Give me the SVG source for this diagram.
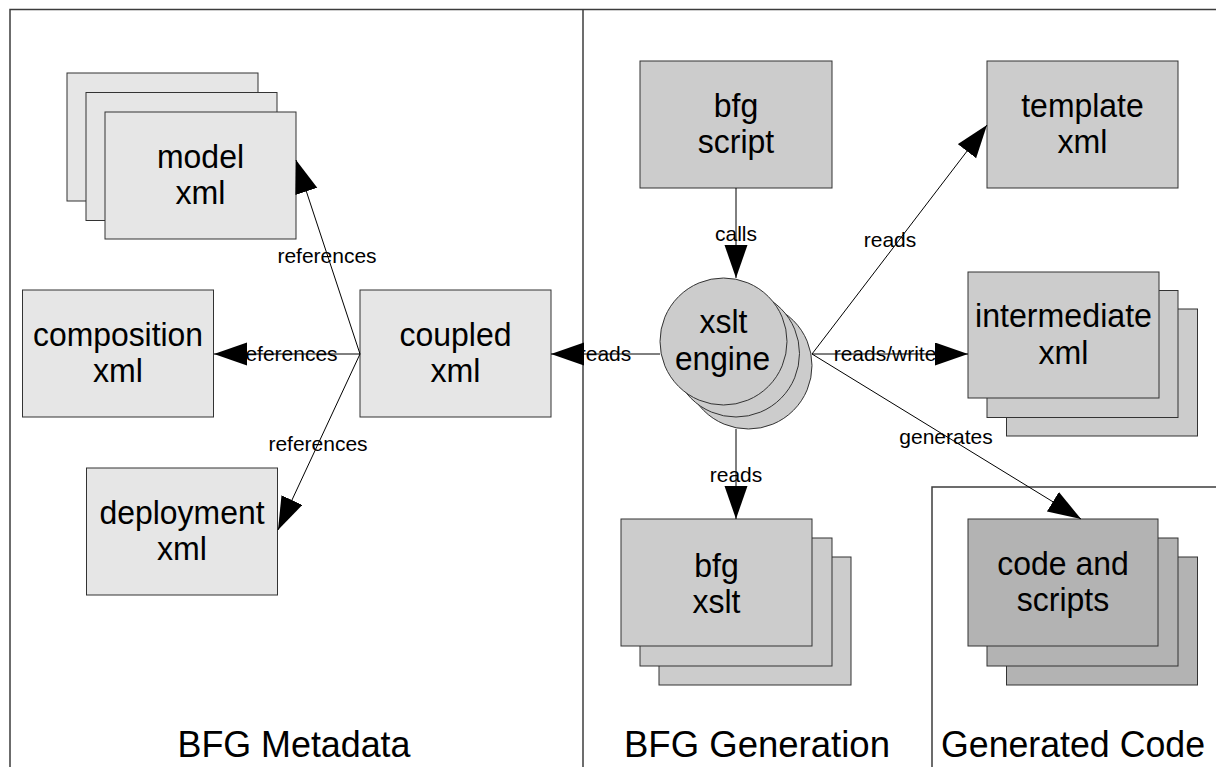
<svg xmlns="http://www.w3.org/2000/svg" width="1216" height="767" viewBox="0 0 1216 767">
<style>
  .frame { fill: none; stroke: #3c3c3c; stroke-width: 1.5; }
  .box { stroke: #333333; stroke-width: 1; }
  .light { fill: #e6e6e6; }
  .mid { fill: #cccccc; }
  .dark { fill: #b3b3b3; }
  .t { font-family: "Liberation Sans", Arial, sans-serif; font-size: 34px; fill: #000; text-anchor: middle; }
  .lbl { font-family: "Liberation Sans", Arial, sans-serif; font-size: 21px; fill: #000; text-anchor: middle; }
  .title { font-family: "Liberation Sans", Arial, sans-serif; font-size: 37px; fill: #000; text-anchor: middle; }
  .conn { fill: none; stroke: #000; stroke-width: 1; marker-end: url(#arrow); }
</style>
<defs>
  <marker id="arrow" markerUnits="userSpaceOnUse" markerWidth="34" markerHeight="24" refX="33" refY="11.5" orient="auto">
    <path d="M0,0 L33,11.5 L0,23 z" fill="#000"/>
  </marker>
</defs>
<rect x="0" y="0" width="1216" height="767" fill="#ffffff"/>

<g id="frames">
  <path class="frame" d="M10,767 V9.5 H1216"/>
  <path class="frame" d="M583,9.5 V767"/>
  <path class="frame" d="M932,767 V487 H1216"/>
</g>

<g id="model">
  <rect class="box light" x="67" y="73" width="191" height="128"/>
  <rect class="box light" x="86" y="92.5" width="191" height="128"/>
  <rect class="box light" x="105" y="112" width="191" height="127"/>
  <text class="t" x="200.5" y="168" textLength="87" lengthAdjust="spacingAndGlyphs">model</text>
  <text class="t" x="200.5" y="204" textLength="50" lengthAdjust="spacingAndGlyphs">xml</text>
</g>

<g id="composition">
  <rect class="box light" x="22.5" y="290" width="191" height="127"/>
  <text class="t" x="118" y="346" textLength="170" lengthAdjust="spacingAndGlyphs">composition</text>
  <text class="t" x="118" y="382" textLength="50" lengthAdjust="spacingAndGlyphs">xml</text>
</g>

<g id="coupled">
  <rect class="box light" x="360" y="290" width="191" height="127"/>
  <text class="t" x="455.5" y="346" textLength="112" lengthAdjust="spacingAndGlyphs">coupled</text>
  <text class="t" x="455.5" y="382" textLength="50" lengthAdjust="spacingAndGlyphs">xml</text>
</g>

<g id="deployment">
  <rect class="box light" x="86.5" y="468" width="191" height="127"/>
  <text class="t" x="182" y="524" textLength="165" lengthAdjust="spacingAndGlyphs">deployment</text>
  <text class="t" x="182" y="560" textLength="50" lengthAdjust="spacingAndGlyphs">xml</text>
</g>

<g id="bfg-script">
  <rect class="box mid" x="640" y="61" width="192" height="127"/>
  <text class="t" x="736" y="117" textLength="44.5" lengthAdjust="spacingAndGlyphs">bfg</text>
  <text class="t" x="736" y="153" textLength="76.5" lengthAdjust="spacingAndGlyphs">script</text>
</g>

<g id="template">
  <rect class="box mid" x="987" y="61" width="191" height="127"/>
  <text class="t" x="1082.5" y="117" textLength="122.5" lengthAdjust="spacingAndGlyphs">template</text>
  <text class="t" x="1082.5" y="153" textLength="50" lengthAdjust="spacingAndGlyphs">xml</text>
</g>

<g id="xslt-engine">
  <circle class="box mid" cx="748.5" cy="365.5" r="63.5"/>
  <circle class="box mid" cx="736" cy="353.5" r="63.5"/>
  <circle class="box mid" cx="723.5" cy="341.5" r="63.5"/>
  <text class="t" x="723.5" y="333" textLength="48" lengthAdjust="spacingAndGlyphs">xslt</text>
  <text class="t" x="722.5" y="370" textLength="95" lengthAdjust="spacingAndGlyphs">engine</text>
</g>

<g id="intermediate">
  <rect class="box mid" x="1006.5" y="309" width="191" height="127"/>
  <rect class="box mid" x="987" y="290.5" width="191" height="127"/>
  <rect class="box mid" x="968" y="272" width="191" height="126"/>
  <text class="t" x="1063.5" y="327" textLength="177" lengthAdjust="spacingAndGlyphs">intermediate</text>
  <text class="t" x="1063.5" y="364" textLength="50" lengthAdjust="spacingAndGlyphs">xml</text>
</g>

<g id="bfg-xslt">
  <rect class="box mid" x="659" y="557" width="192" height="128"/>
  <rect class="box mid" x="640" y="538" width="192" height="128"/>
  <rect class="box mid" x="621" y="519" width="191" height="127"/>
  <text class="t" x="716.5" y="577" textLength="44.5" lengthAdjust="spacingAndGlyphs">bfg</text>
  <text class="t" x="716.5" y="613" textLength="48" lengthAdjust="spacingAndGlyphs">xslt</text>
</g>

<g id="code-and-scripts">
  <rect class="box dark" x="1006.5" y="557" width="191" height="128"/>
  <rect class="box dark" x="987" y="538" width="191" height="128"/>
  <rect class="box dark" x="968" y="519" width="190" height="127"/>
  <text class="t" x="1063" y="575" textLength="131.5" lengthAdjust="spacingAndGlyphs">code and</text>
  <text class="t" x="1063" y="611" textLength="92.5" lengthAdjust="spacingAndGlyphs">scripts</text>
</g>

<g id="connectors">
  <line class="conn" x1="360" y1="354" x2="296" y2="160"/>
  <line class="conn" x1="360" y1="354" x2="214" y2="354"/>
  <line class="conn" x1="360" y1="354" x2="278" y2="530"/>
  <line class="conn" x1="660" y1="354" x2="551" y2="354"/>
  <line class="conn" x1="736" y1="188" x2="736" y2="278"/>
  <line class="conn" x1="812" y1="354" x2="987" y2="125"/>
  <line class="conn" x1="812" y1="354" x2="968" y2="354"/>
  <line class="conn" x1="812" y1="354" x2="1081" y2="519"/>
  <line class="conn" x1="736" y1="429" x2="736" y2="519"/>
  <text class="lbl" x="327" y="263">references</text>
  <text class="lbl" x="288" y="361">references</text>
  <text class="lbl" x="318" y="451">references</text>
  <text class="lbl" x="605" y="361">reads</text>
  <text class="lbl" x="736" y="241">calls</text>
  <text class="lbl" x="890" y="247">reads</text>
  <text class="lbl" x="885" y="361">reads/write</text>
  <text class="lbl" x="946" y="444">generates</text>
  <text class="lbl" x="736" y="482">reads</text>
</g>

<g id="titles">
  <text class="title" x="294" y="757" textLength="233" lengthAdjust="spacingAndGlyphs">BFG Metadata</text>
  <text class="title" x="757" y="757" textLength="266" lengthAdjust="spacingAndGlyphs">BFG Generation</text>
  <text class="title" x="1073" y="757" textLength="264" lengthAdjust="spacingAndGlyphs">Generated Code</text>
</g>
</svg>
